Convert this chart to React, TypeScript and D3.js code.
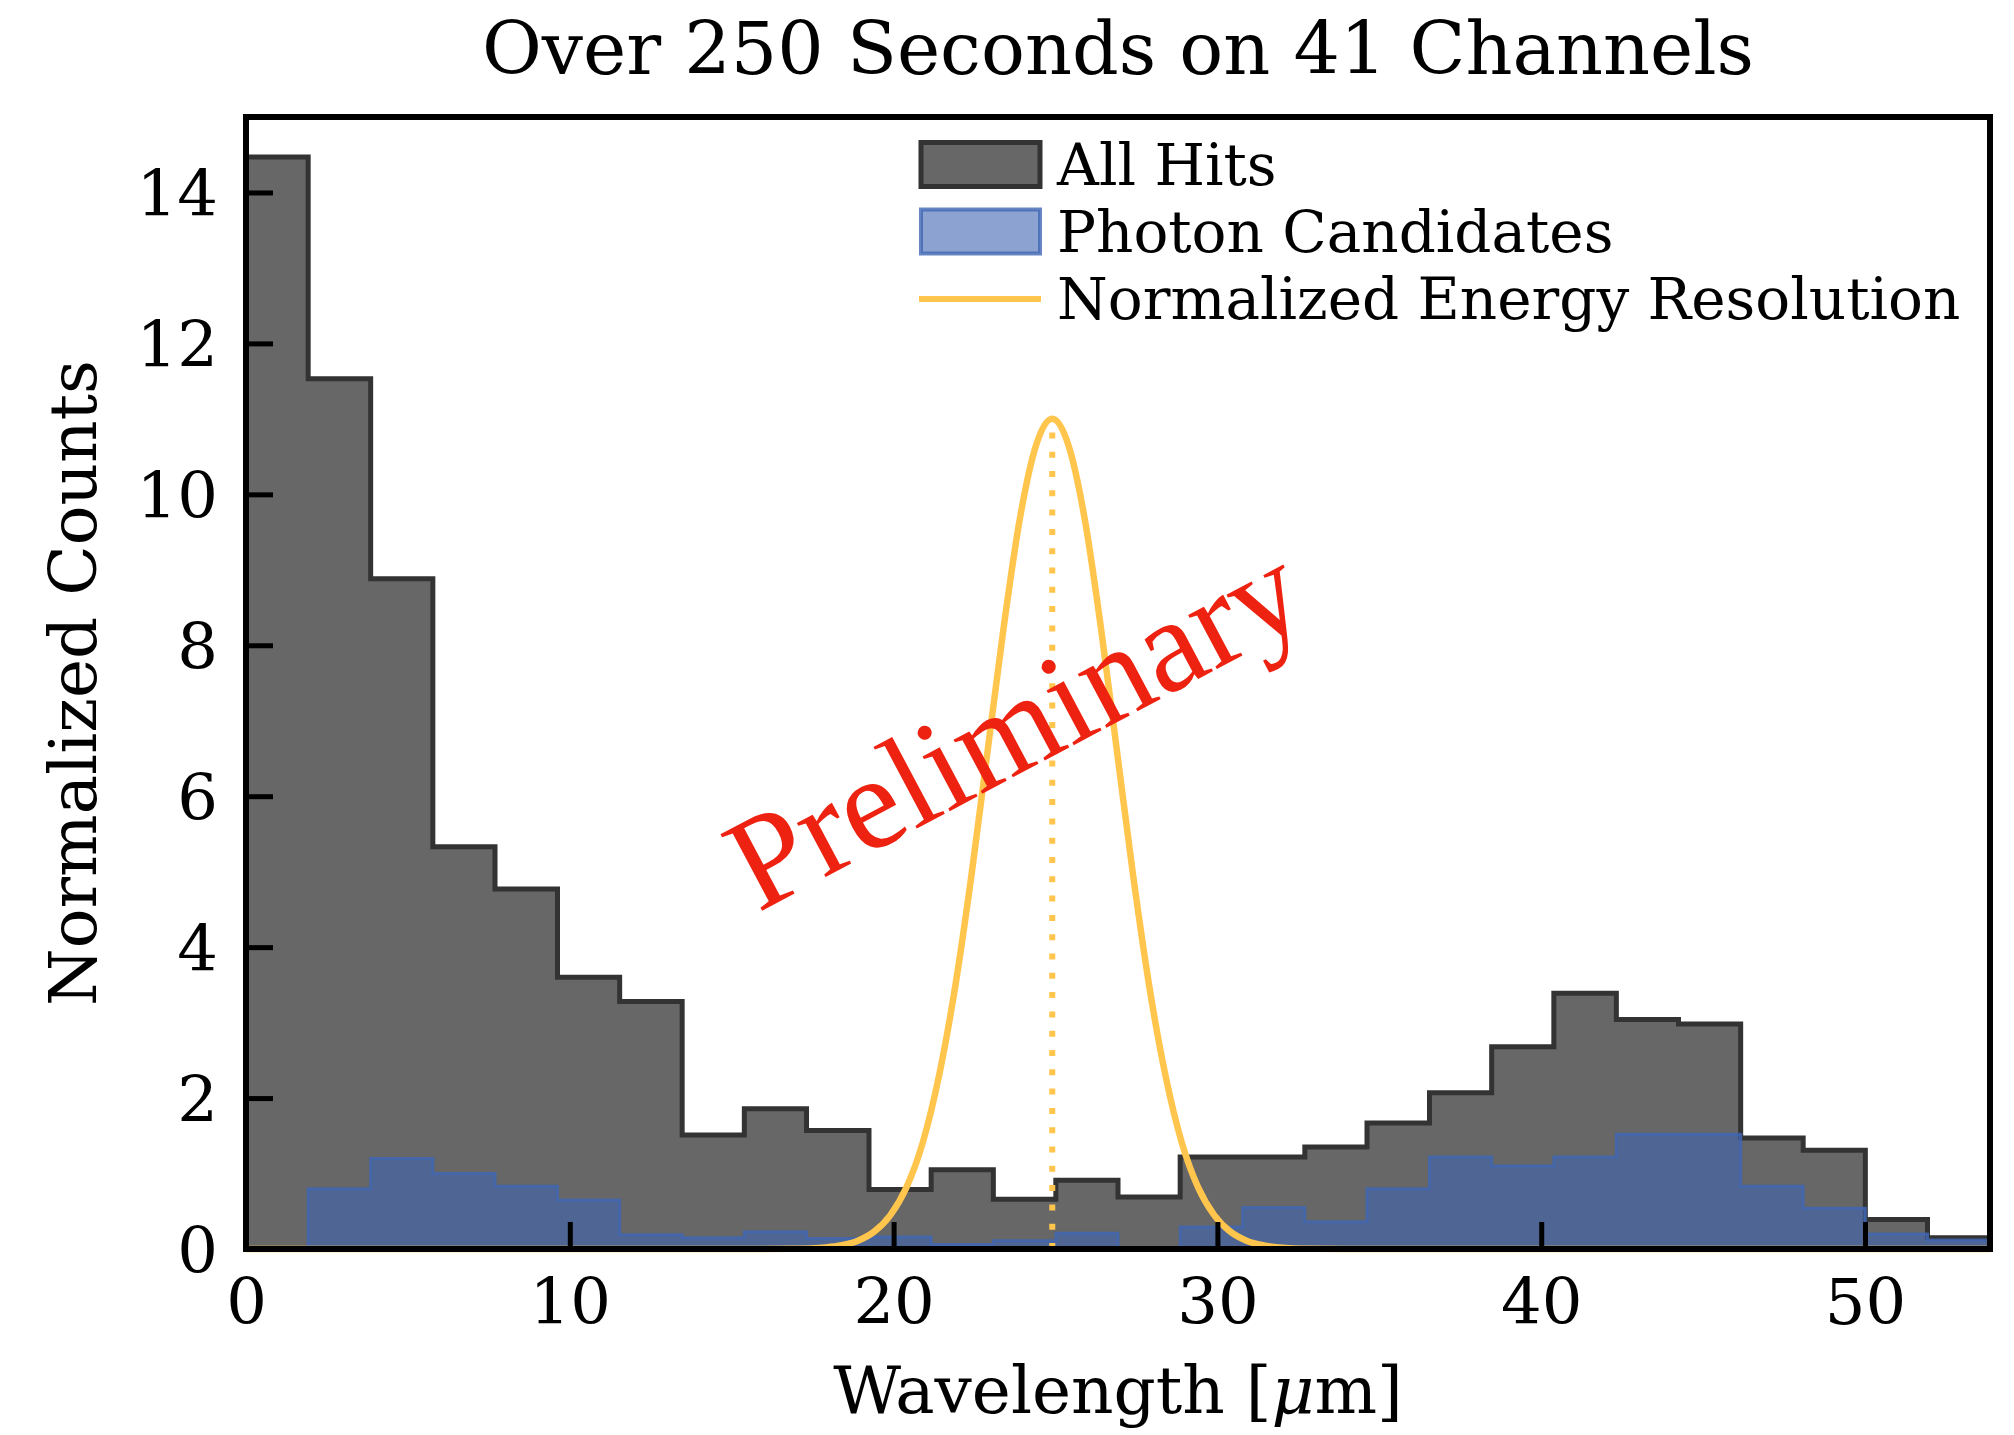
import React, { useEffect, useRef } from 'react';
import * as d3 from 'd3';

// histogram bin edges (µm) and heights
const binEdges = [0, 1.92, 3.85, 5.77, 7.69, 9.62, 11.54, 13.47, 15.39, 17.31, 19.24, 21.16, 23.08, 25.01, 26.93, 28.85, 30.78, 32.7, 34.62, 36.55, 38.47, 40.39, 42.32, 44.24, 46.16, 48.09, 50.01, 51.93, 53.86];
const allHits = [14.47, 11.53, 8.88, 5.33, 4.77, 3.6, 3.28, 1.51, 1.86, 1.57, 0.79, 1.05, 0.66, 0.91, 0.69, 1.22, 1.22, 1.35, 1.67, 2.07, 2.68, 3.39, 3.04, 2.98, 1.47, 1.31, 0.39, 0.15];
const photonCandidates = [0, 0.8, 1.2, 1.0, 0.83, 0.65, 0.19, 0.15, 0.23, 0.14, 0.16, 0.06, 0.11, 0.21, 0, 0.29, 0.55, 0.36, 0.8, 1.22, 1.1, 1.22, 1.52, 1.52, 0.83, 0.54, 0.2, 0.12];

// normalized energy resolution curve
const resX = [0, 15.9, 16.9, 17.9, 18.4, 18.9, 19.4, 19.9, 20.4, 20.9, 21.4, 21.9, 22.4, 22.9, 23.4, 23.9, 24.4, 24.9, 25.4, 25.9, 26.4, 26.9, 27.4, 27.9, 28.4, 28.9, 29.4, 29.9, 30.4, 30.9, 31.4, 31.9, 32.9, 33.9, 53.86];
const resY = [0, 0, 0.003, 0.021, 0.049, 0.11, 0.23, 0.45, 0.82, 1.41, 2.29, 3.47, 4.94, 6.59, 8.24, 9.68, 10.65, 11.0, 10.65, 9.68, 8.24, 6.59, 4.94, 3.47, 2.29, 1.41, 0.82, 0.45, 0.23, 0.11, 0.049, 0.021, 0.003, 0, 0];
const resPeak = 24.9;

const xTicks = [0, 10, 20, 30, 40, 50];
const yTicks = [0, 2, 4, 6, 8, 10, 12, 14];

const legendItems = ['All Hits', 'Photon Candidates', 'Normalized Energy Resolution'];

const W = 2014, H = 1435;
const left = 246, right = 1990, top = 117, bottom = 1249;
const FONT = 'DejaVu Serif, serif';
const GRAY = '#676767', GRAY_EDGE = '#333333';
const BLUE = 'rgba(64,102,179,0.6)', BLUE_EDGE = 'rgba(64,102,179,0.8)';
const GOLD = '#ffc54d';

const App = () => {
    const ref = useRef<SVGSVGElement>(null);

    useEffect(() => {
        const svg = d3.select(ref.current);
        svg.selectAll('*').remove();

        const x = d3.scaleLinear().domain([0, binEdges[binEdges.length - 1]]).range([left, right]);
        const y = d3.scaleLinear().domain([0, 15]).range([bottom, top]);

        const stepPoints = (vals: number[]) => {
            const pts: [number, number][] = [[binEdges[0], 0]];
            vals.forEach((v, i) => {
                pts.push([binEdges[i], v]);
                pts.push([binEdges[i + 1], v]);
            });
            pts.push([binEdges[binEdges.length - 1], 0]);
            return pts;
        };
        const poly = d3.line<[number, number]>().x(d => x(d[0])).y(d => y(d[1]));

        svg.append('path')
            .attr('d', poly(stepPoints(allHits)) + 'Z')
            .attr('fill', GRAY)
            .attr('stroke', GRAY_EDGE)
            .attr('stroke-width', 5);

        svg.append('path')
            .attr('d', poly(stepPoints(photonCandidates)) + 'Z')
            .attr('fill', BLUE)
            .attr('stroke', BLUE_EDGE)
            .attr('stroke-width', 3);

        const resLine = d3.line<number>()
            .x((d, i) => x(resX[i]))
            .y(d => y(d))
            .curve(d3.curveMonotoneX);

        svg.append('path')
            .attr('d', resLine(resY))
            .attr('fill', 'none')
            .attr('stroke', GOLD)
            .attr('stroke-width', 6.5);

        svg.append('line')
            .attr('x1', x(resPeak)).attr('x2', x(resPeak))
            .attr('y1', y(0)).attr('y2', y(d3.max(resY)!))
            .attr('stroke', GOLD)
            .attr('stroke-width', 6)
            .attr('stroke-dasharray', '6 13.3');

        // watermark
        svg.append('text')
            .attr('transform', 'translate(758,913) rotate(-28)')
            .attr('font-family', "'Liberation Serif', serif")
            .attr('font-size', 133)
            .attr('fill', '#ee2211')
            .text('Preliminary');

        // spines
        svg.append('rect')
            .attr('x', left).attr('y', top)
            .attr('width', right - left).attr('height', bottom - top)
            .attr('fill', 'none')
            .attr('stroke', '#000')
            .attr('stroke-width', 6);

        // ticks point inward
        const xAxis = svg.append('g').attr('transform', `translate(0,${bottom})`)
            .call(d3.axisBottom(x).tickValues(xTicks).tickSizeInner(-27).tickSizeOuter(0));
        xAxis.select('.domain').remove();
        xAxis.selectAll('line').attr('stroke-width', 5);
        xAxis.selectAll('text')
            .attr('font-family', FONT)
            .attr('font-size', 64)
            .attr('fill', '#000')
            .attr('dy', '0.71em')
            .attr('y', 30);

        const yAxis = svg.append('g').attr('transform', `translate(${left},0)`)
            .call(d3.axisLeft(y).tickValues(yTicks).tickSizeInner(-27).tickSizeOuter(0));
        yAxis.select('.domain').remove();
        yAxis.selectAll('line').attr('stroke-width', 5);
        yAxis.selectAll('text')
            .attr('font-family', FONT)
            .attr('font-size', 64)
            .attr('fill', '#000')
            .attr('x', -28)
            .attr('dy', '0.36em');

        // titles
        svg.append('text')
            .attr('x', (left + right) / 2).attr('y', 74)
            .attr('text-anchor', 'middle')
            .attr('font-family', FONT)
            .attr('font-size', 73)
            .text('Over 250 Seconds on 41 Channels');

        const xl = svg.append('text')
            .attr('x', (left + right) / 2).attr('y', 1413)
            .attr('text-anchor', 'middle')
            .attr('font-family', FONT)
            .attr('font-size', 66);
        xl.append('tspan').text('Wavelength [');
        xl.append('tspan').attr('font-style', 'italic').text('μ');
        xl.append('tspan').text('m]');

        svg.append('text')
            .attr('transform', `translate(96,${(top + bottom) / 2}) rotate(-90)`)
            .attr('text-anchor', 'middle')
            .attr('font-family', FONT)
            .attr('font-size', 66)
            .text('Normalized Counts');

        // legend
        const lg = svg.append('g');
        const rowY = [164.5, 231.5, 299];
        lg.append('rect').attr('x', 921).attr('y', rowY[0] - 22).attr('width', 119).attr('height', 44)
            .attr('fill', GRAY).attr('stroke', GRAY_EDGE).attr('stroke-width', 5);
        lg.append('rect').attr('x', 921).attr('y', rowY[1] - 22).attr('width', 119).attr('height', 44)
            .attr('fill', BLUE).attr('stroke', BLUE_EDGE).attr('stroke-width', 4);
        lg.append('line').attr('x1', 919).attr('x2', 1041).attr('y1', rowY[2]).attr('y2', rowY[2])
            .attr('stroke', GOLD).attr('stroke-width', 6);
        legendItems.forEach((t, i) => {
            lg.append('text')
                .attr('x', 1057).attr('y', rowY[i] + 20)
                .attr('font-family', FONT)
                .attr('font-size', 58)
                .text(t);
        });
    }, []);

    return (
        <svg ref={ref} width={W} height={H}
            style={{ position: 'absolute', left: 0, top: 0, background: '#fff' }} />
    );
};

export default App;
